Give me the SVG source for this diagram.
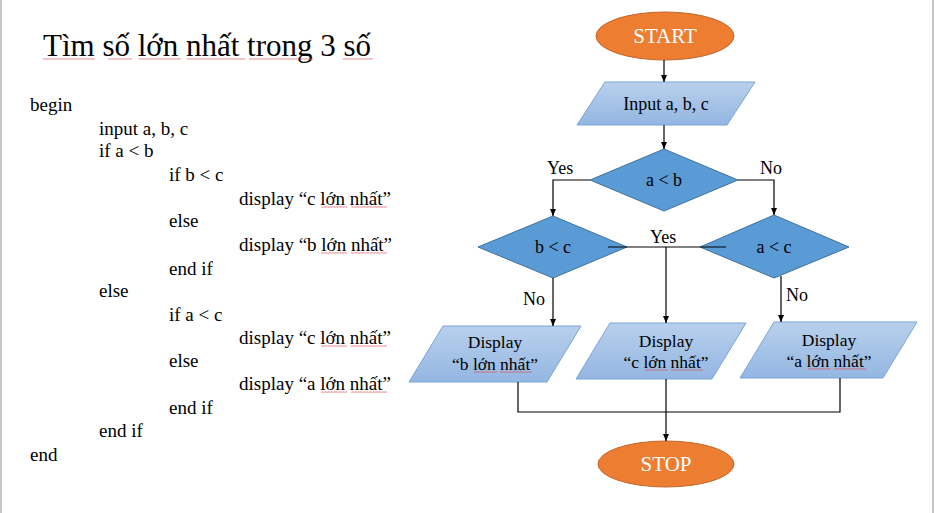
<svg xmlns="http://www.w3.org/2000/svg" width="935" height="513" viewBox="0 0 935 513">
<style>
.t{font-family:"Liberation Serif","Times New Roman",serif;fill:#000}
.code{font-size:19px}
.title{font-size:31px}
.lbl{font-size:18px}
.wt{font-family:"Liberation Serif","Times New Roman",serif;fill:#fff;font-size:21px}
.dia{fill:#5b9bd5;stroke:#41719c;stroke-width:1}
.par{fill:url(#pg);stroke:#7aa5d6;stroke-width:1}
.ell{fill:#ed7d31;stroke:#c0662a;stroke-width:1}
.cn{fill:none;stroke:#000;stroke-width:1.2}
.sq{fill:url(#sqp);opacity:0.75}
</style>
<defs>
<linearGradient id="pg" x1="0" y1="0" x2="0" y2="1">
<stop offset="0" stop-color="#b9d0ec"/>
<stop offset="1" stop-color="#93b6e2"/>
</linearGradient>
<pattern id="sqp" width="3" height="2" patternUnits="userSpaceOnUse">
<path d="M0,1.7 L0.75,0.3 L1.5,1.7 L2.25,0.3 L3,1.7" fill="none" stroke="#e04848" stroke-width="0.6"/>
</pattern>
<marker id="ah" markerWidth="8" markerHeight="8" refX="7" refY="4" orient="auto" markerUnits="userSpaceOnUse">
<path d="M0,1 L7,4 L0,7 z" fill="#000"/>
</marker>
</defs>
<rect x="0" y="0" width="935" height="513" fill="#fff"/>
<rect x="0" y="0" width="2" height="513" fill="#c8c8c8"/>
<rect x="932" y="0" width="2" height="513" fill="#c8c8c8"/>

<g id="title">
<text class="t title" x="43" y="56">Tìm số lớn nhất trong 3 số</text>
<rect class="sq" x="43" y="58" width="52" height="2"/>
<rect class="sq" x="108" y="58" width="24" height="2"/>
<rect class="sq" x="139" y="58" width="42" height="2"/>
<rect class="sq" x="187" y="58" width="58" height="2"/>
<rect class="sq" x="249" y="58" width="64" height="2"/>
<rect class="sq" x="343" y="58" width="30" height="2"/>
</g>

<g id="pseudocode" class="t code">
<text x="30" y="111">begin</text>
<text x="99" y="135">input a, b, c</text>
<text x="99" y="157">if a &lt; b</text>
<text x="169" y="181">if b &lt; c</text>
<text x="239" y="205">display “c lớn nhất”</text>
<text x="169" y="227">else</text>
<text x="239" y="251">display “b lớn nhất”</text>
<text x="169" y="275">end if</text>
<text x="99" y="297">else</text>
<text x="169" y="321">if a &lt; c</text>
<text x="239" y="344">display “c lớn nhất”</text>
<text x="169" y="367">else</text>
<text x="239" y="390">display “a lớn nhất”</text>
<text x="169" y="414">end if</text>
<text x="99" y="437">end if</text>
<text x="30" y="461">end</text>
<rect class="sq" x="321" y="206" width="26" height="2"/>
<rect class="sq" x="351" y="206" width="36" height="2"/>
<rect class="sq" x="321" y="252" width="26" height="2"/>
<rect class="sq" x="351" y="252" width="36" height="2"/>
<rect class="sq" x="321" y="345" width="26" height="2"/>
<rect class="sq" x="351" y="345" width="36" height="2"/>
<rect class="sq" x="321" y="391" width="26" height="2"/>
<rect class="sq" x="351" y="391" width="36" height="2"/>
</g>

<g id="start">
<ellipse class="ell" cx="665" cy="36" rx="69" ry="24"/>
<text class="wt" x="665" y="43" text-anchor="middle">START</text>
</g>

<g id="input">
<polygon class="par" points="605,82 755,82 727,125 577,125"/>
<text class="t lbl" x="666" y="110" text-anchor="middle">Input a, b, c</text>
</g>

<g id="d_ab">
<polygon class="dia" points="664,149 738,180 664,211 590,180"/>
<text class="t lbl" x="664" y="186" text-anchor="middle">a &lt; b</text>
</g>

<g id="d_bc">
<polygon class="dia" points="553,216 627,247 553,278 478,247"/>
<text class="t lbl" x="553" y="253" text-anchor="middle">b &lt; c</text>
</g>

<g id="d_ac">
<polygon class="dia" points="774,215 849,247 774,278 700,247"/>
<text class="t lbl" x="774" y="253" text-anchor="middle">a &lt; c</text>
</g>

<g id="out_b">
<polygon class="par" points="443,326 581,326 547,382 409,382"/>
<text class="t" font-size="17.5" x="495" y="348" text-anchor="middle">Display</text>
<text class="t" font-size="17.5" x="495" y="370" text-anchor="middle">“b lớn nhất”</text>
<rect class="sq" x="474" y="371" width="23" height="2"/>
<rect class="sq" x="500" y="371" width="32" height="2"/>
</g>

<g id="out_c">
<polygon class="par" points="610,323 746,323 712,379 576,379"/>
<text class="t" font-size="17.5" x="666" y="347" text-anchor="middle">Display</text>
<text class="t" font-size="17.5" x="666" y="368" text-anchor="middle">“c lớn nhất”</text>
<rect class="sq" x="645" y="369" width="23" height="2"/>
<rect class="sq" x="671" y="369" width="32" height="2"/>
</g>

<g id="out_a">
<polygon class="par" points="774,322 917,322 883,378 740,378"/>
<text class="t" font-size="17.5" x="829" y="346" text-anchor="middle">Display</text>
<text class="t" font-size="17.5" x="829" y="367" text-anchor="middle">“a lớn nhất”</text>
<rect class="sq" x="808" y="368" width="23" height="2"/>
<rect class="sq" x="834" y="368" width="32" height="2"/>
</g>

<g id="stop">
<ellipse class="ell" cx="666" cy="464" rx="68" ry="23"/>
<text class="wt" x="666" y="471" text-anchor="middle">STOP</text>
</g>

<g id="connectors">
<line class="cn" x1="664" y1="60" x2="664" y2="82" marker-end="url(#ah)"/>
<line class="cn" x1="664" y1="125" x2="664" y2="149" marker-end="url(#ah)"/>
<polyline class="cn" points="590,180 553,180 553,216" marker-end="url(#ah)"/>
<polyline class="cn" points="738,180 774,180 774,215" marker-end="url(#ah)"/>
<line class="cn" x1="608" y1="247" x2="726" y2="247"/>
<line class="cn" x1="666" y1="247" x2="666" y2="323" marker-end="url(#ah)"/>
<line class="cn" x1="553" y1="278" x2="553" y2="326" marker-end="url(#ah)"/>
<line class="cn" x1="781" y1="276" x2="781" y2="322" marker-end="url(#ah)"/>
<polyline class="cn" points="518,382 518,412 840,412 840,378"/>
<line class="cn" x1="666" y1="379" x2="666" y2="441" marker-end="url(#ah)"/>
<g class="t lbl">
<text x="547" y="174">Yes</text>
<text x="760" y="174">No</text>
<text x="650" y="243">Yes</text>
<text x="523" y="305">No</text>
<text x="786" y="301">No</text>
</g>
</g>
</svg>
